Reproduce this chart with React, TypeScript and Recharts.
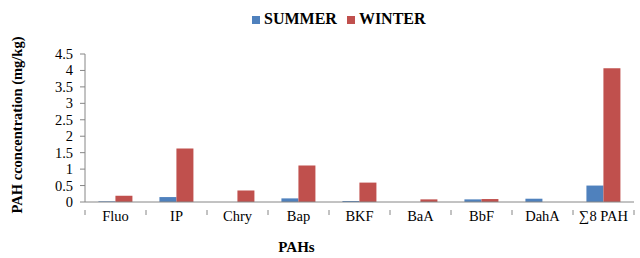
import { BarChart, Bar, XAxis, YAxis, Legend, Label } from 'recharts';

const categories = ['Fluo', 'IP', 'Chry', 'Bap', 'BKF', 'BaA', 'BbF', 'DahA', '∑8 PAH'];
const summerValues = [0.02, 0.15, 0, 0.11, 0.03, 0, 0.08, 0.1, 0.5];
const winterValues = [0.19, 1.63, 0.35, 1.11, 0.59, 0.08, 0.09, 0, 4.07];
const yTicks = [0, 0.5, 1, 1.5, 2, 2.5, 3, 3.5, 4, 4.5];

const data = categories.map((name, i) => ({
  name,
  SUMMER: summerValues[i],
  WINTER: winterValues[i],
}));

const FONT = '"Liberation Serif", "Times New Roman", serif';
const AXIS_GRAY = '#868686';
const STEP = (634 - 85) / categories.length;

// category labels with tick marks on the category boundaries
function CategoryTick(props: any) {
  const { x, y, payload, index } = props;
  return (
    <g>
      {index === 0 && (
        <line x1={x - STEP / 2} y1={y} x2={x - STEP / 2} y2={y + 5} stroke={AXIS_GRAY} />
      )}
      <line x1={x + STEP / 2} y1={y} x2={x + STEP / 2} y2={y + 5} stroke={AXIS_GRAY} />
      <text x={x} y={y + 11} textAnchor="middle" fontSize={14.5} fill="#000" fontFamily={FONT}>
        {payload.value}
      </text>
    </g>
  );
}

function ValueTick(props: any) {
  const { x, y, payload } = props;
  return (
    <text x={x} y={y + 5} textAnchor="end" fontSize={14.5} fill="#000" fontFamily={FONT}>
      {payload.value}
    </text>
  );
}

export default function App() {
  return (
    <div style={{ position: 'absolute', left: 0, top: 0, background: '#fff', fontFamily: FONT }}>
      <BarChart
        width={640}
        height={258}
        data={data}
        margin={{ top: 36, right: 6, left: 0, bottom: 0 }}
        barCategoryGap="22%"
        barGap={0}
      >
        <Legend
          verticalAlign="top"
          align="left"
          iconType="square"
          iconSize={8}
          wrapperStyle={{ top: 10, left: 252, width: 220, fontFamily: FONT, fontWeight: 'bold', fontSize: 16 }}
          formatter={(value: string) => <span style={{ color: '#000' }}>{value}</span>}
        />
        <XAxis
          dataKey="name"
          height={56}
          interval={0}
          tickLine={false}
          axisLine={{ stroke: AXIS_GRAY }}
          tick={<CategoryTick />}
        >
          <Label
            value="PAHs"
            position="insideBottom"
            offset={6}
            dx={-63}
            style={{ fontFamily: FONT, fontWeight: 'bold', fontSize: 15, fill: '#000' }}
          />
        </XAxis>
        <YAxis
          width={85}
          domain={[0, 4.5]}
          ticks={yTicks}
          interval={0}
          tickSize={5}
          tickMargin={7}
          tickLine={{ stroke: AXIS_GRAY }}
          axisLine={{ stroke: AXIS_GRAY }}
          tick={<ValueTick />}
        >
          <Label
            value="PAH cconcentration (mg/kg)"
            angle={-90}
            position="insideLeft"
            offset={17}
            dy={-3}
            style={{ textAnchor: 'middle', fontFamily: FONT, fontWeight: 'bold', fontSize: 14.5, fill: '#000' }}
          />
        </YAxis>
        <Bar dataKey="SUMMER" fill="#4F81BD" isAnimationActive={false} />
        <Bar dataKey="WINTER" fill="#C0504D" isAnimationActive={false} />
      </BarChart>
    </div>
  );
}
